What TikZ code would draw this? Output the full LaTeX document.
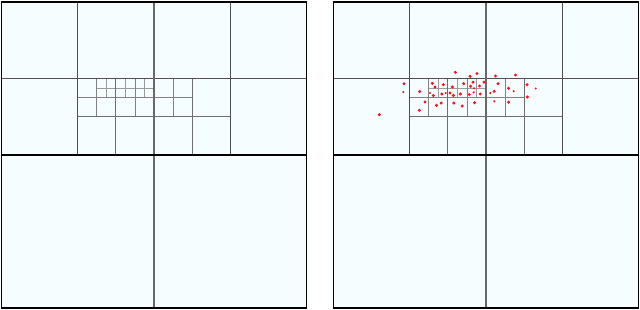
\documentclass[tikz,border=0pt]{standalone}
\usepackage{tikz}
\definecolor{panelbg}{RGB}{245,253,254}
\definecolor{lvA}{RGB}{105,105,105}
\definecolor{lvB}{RGB}{80,80,80}
\definecolor{lvC}{RGB}{110,110,110}
\definecolor{lvD}{RGB}{130,130,130}
\definecolor{lvE}{RGB}{155,155,155}
\definecolor{dotred}{RGB}{250,20,30}
\tikzset{
  border/.style={draw=black,line width=1.8pt,fill=panelbg},
  levA/.style={draw=lvA,line width=1.4pt},
  levAh/.style={draw=black,line width=1.9pt},
  levB/.style={draw=lvB,line width=1.2pt},
  levC/.style={draw=lvC,line width=1.0pt},
  levD/.style={draw=lvD,line width=0.8pt},
  levE/.style={draw=lvE,line width=0.6pt},
  bigdot/.style={fill=dotred,draw=none},
}
\newcommand\qpanel[1]{%
\begin{scope}[shift={(#1,2)},x=305pt,y=-306pt]
  \path[border] (0,0) rectangle (1,1);
  % level 5
  \draw[levE] (11/32,1/4) -- (11/32,5/16);
  \draw[levE] (13/32,1/4) -- (13/32,5/16);
  \draw[levE] (15/32,1/4) -- (15/32,5/16);
  \draw[levE] (5/16,9/32) -- (1/2,9/32);
  % level 4
  \draw[levD] (5/16,1/4) -- (5/16,3/8);
  \draw[levD] (7/16,1/4) -- (7/16,3/8);
  \draw[levD] (9/16,1/4) -- (9/16,3/8);
  \draw[levD] (1/4,5/16) -- (5/8,5/16);
  % level 3
  \draw[levC] (3/8,1/4) -- (3/8,1/2);
  \draw[levC] (5/8,1/4) -- (5/8,1/2);
  \draw[levC] (1/4,3/8) -- (3/4,3/8);
  % level 2
  \draw[levB] (1/4,0) -- (1/4,1/2);
  \draw[levB] (3/4,0) -- (3/4,1/2);
  \draw[levB] (0,1/4) -- (1,1/4);
  % level 1
  \draw[levA] (1/2,0) -- (1/2,1);
  \draw[levAh] (0,1/2) -- (1,1/2);
  \draw[black,line width=1.8pt] (0,0) rectangle (1,1);
\end{scope}}
\begin{document}
\begin{tikzpicture}[x=1pt,y=-1pt]
\useasboundingbox (0,0) rectangle (640,309);
\fill[white] (0,0) rectangle (640,309);
\qpanel{1.5}
\qpanel{333.5}
% points
\foreach \px/\py in {455.3/72.3, 477/73.5, 470/76.3, 495.5/76, 515.5/75,
  404/83.7, 432.3/83.3, 443.3/84.7, 435/87, 452.3/87, 463.7/83.7, 473/82.2,
  484/82.2, 470.5/86.3, 479.5/86, 498/83.7, 508.5/88.3, 527/84.7,
  419.7/91.5, 433.3/95.5, 441.8/94, 450/93, 453.3/95.5, 460.3/94, 469.2/94.5,
  480.2/94, 494.2/91.3, 527.3/97, 425/102, 441.2/103, 436.5/105.3, 453.8/103,
  462.2/106, 474.5/102.7, 508.5/102.2, 419.3/110.3, 379.3/114.7}
  \fill[bigdot] (\px,\py) circle (1.7pt);
\foreach \px/\py in {403.3/92, 430/93, 445.7/93, 473.7/92.3, 490.3/93,
  513.7/91.2, 535.7/88.5, 494.3/101.3, 474/88.3}
  \fill[bigdot] (\px,\py) circle (1.2pt);
\end{tikzpicture}
\end{document}
